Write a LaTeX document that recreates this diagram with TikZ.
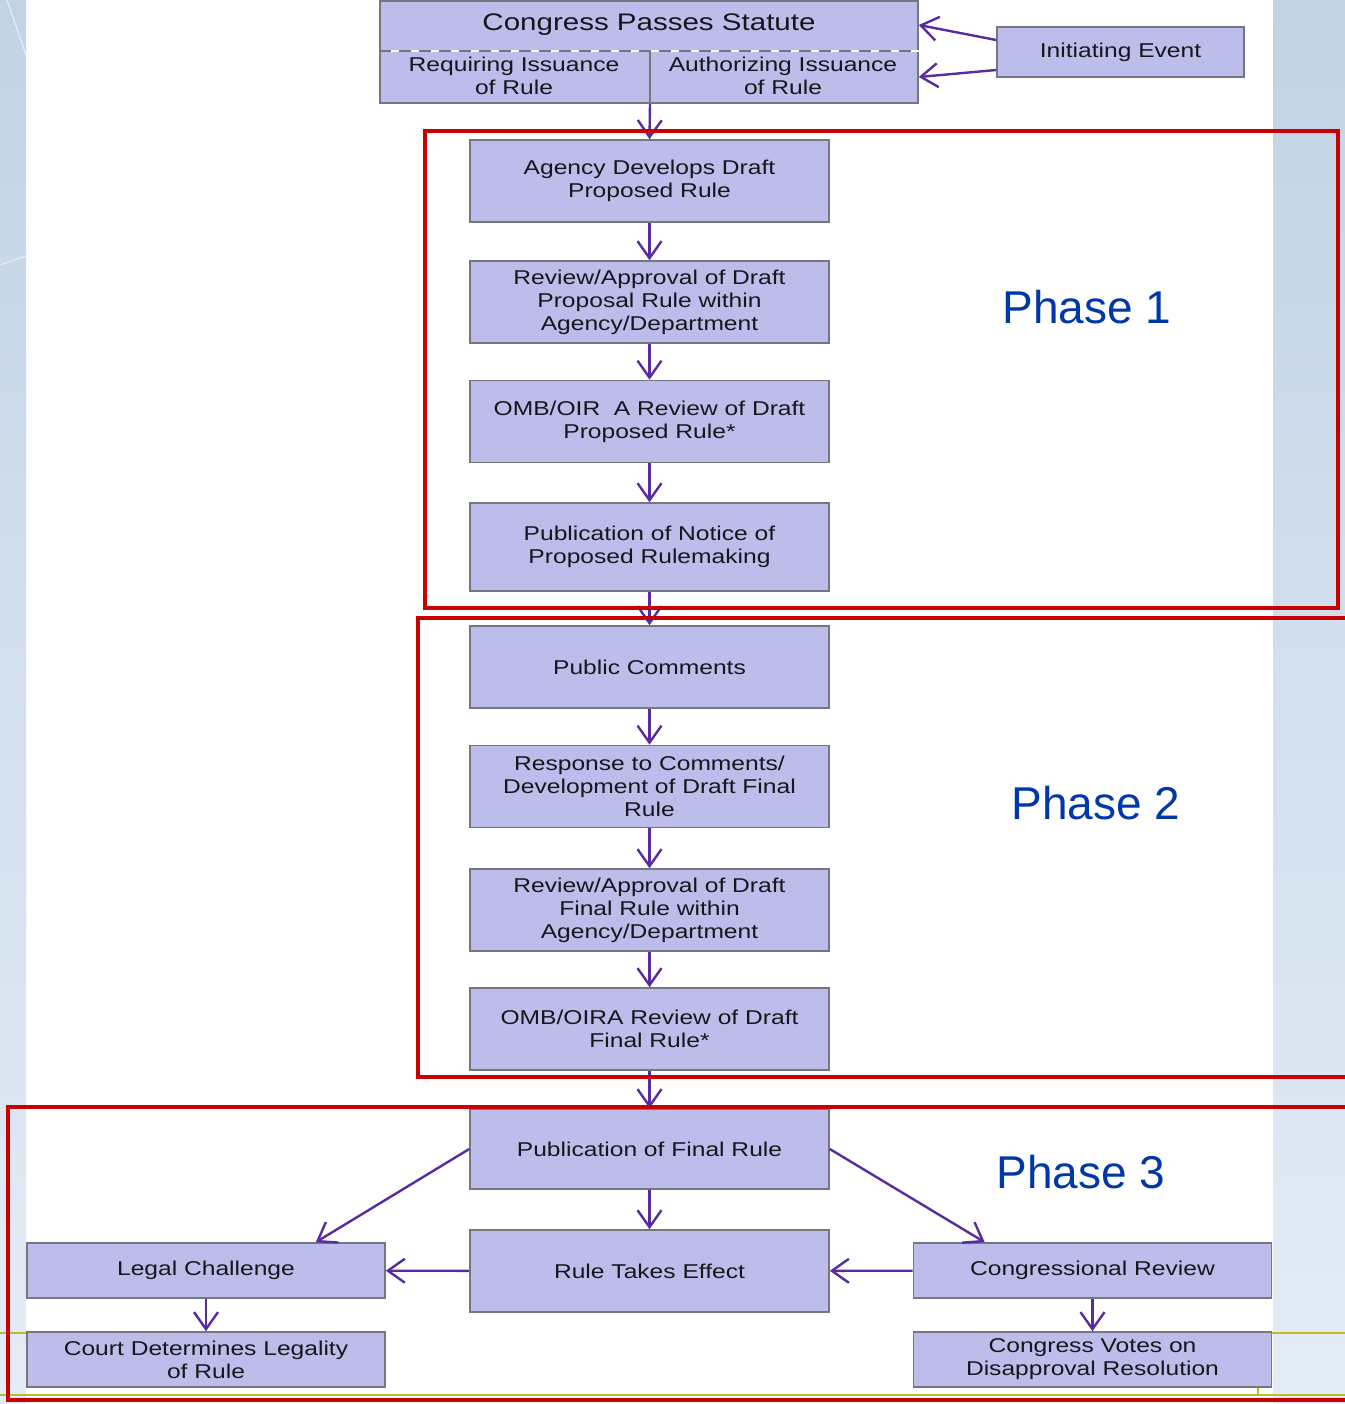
\documentclass[tikz,border=0pt]{standalone}
\usepackage{fontspec}
\setmainfont{Liberation Sans}[FakeStretch=1.23]
\newfontfamily\phasefont{Liberation Sans}
\usetikzlibrary{arrows.meta}
\definecolor{boxfill}{RGB}{189,189,236}
\definecolor{boxline}{RGB}{118,118,128}
\definecolor{boxtext}{RGB}{22,22,28}
\definecolor{flowpurple}{RGB}{88,44,160}
\definecolor{phasered}{RGB}{200,0,0}
\definecolor{phaseblue}{RGB}{0,56,168}
\definecolor{slideblue}{RGB}{194,211,230}
\definecolor{slidepale}{RGB}{228,236,246}
\definecolor{slideolive}{RGB}{188,188,40}
\tikzset{
  stepbox/.style={draw=boxline, line width=0.8pt, fill=boxfill, minimum width=179.5pt,
    minimum height=41pt, inner sep=0pt, align=center, text=boxtext,
    font=\fontsize{10}{11.5}\selectfont},
  sidebox/.style={stepbox, minimum width=179pt, minimum height=27.5pt},
  flow/.style={draw=flowpurple, line width=1.2pt, -{Straight Barb[length=8.5pt,width=12pt]}},
  phaseframe/.style={draw=phasered, line width=2pt},
  phaselabel/.style={text=phaseblue, font=\phasefont\fontsize{23}{27}\selectfont}
}
\begin{document}
\begin{tikzpicture}[x=0.5pt, y=-0.5pt]
\useasboundingbox (0,0) rectangle (1345,1404);
% slide background
\shade[top color=slideblue, bottom color=slidepale] (0,0) rectangle (26,1404);
\shade[top color=slideblue, bottom color=slidepale] (1273,0) rectangle (1345,1404);
\draw[slideblue!40!white, line width=0.6pt] (7,0)--(26,55);
\draw[slideblue!40!white, line width=0.6pt] (0,265)--(26,256);
\draw[slideolive, line width=1pt] (0,1333)--(27,1333);
\draw[slideolive, line width=1pt] (1272,1333)--(1345,1333);
\draw[slideolive, line width=1pt] (0,1395)--(1345,1395);
\draw[slideolive, line width=1pt] (1258,1387)--(1258,1395);

% statute box
\node[stepbox, minimum width=269pt, minimum height=51pt] (congress) at (649,52) {};
\node[text=boxtext, font=\fontsize{12}{14}\selectfont] (statute) at (649,25) {Congress Passes Statute};
\node[text=boxtext, align=center, font=\fontsize{10}{11.5}\selectfont] (requiring) at (514,76) {Requiring Issuance\\of Rule};
\node[text=boxtext, align=center, font=\fontsize{10}{11.5}\selectfont] (authorizing) at (783,76) {Authorizing Issuance\\of Rule};
\coordinate (split) at (650,51);
\draw[white, line width=1.2pt] (congress.west |- split)--(congress.east |- split);
\draw[boxline, line width=0.8pt, dash pattern=on 6pt off 4pt] (congress.west |- split)--(congress.east |- split);
\draw[boxline, line width=0.6pt] (split)--(split |- congress.south);
\node[stepbox, minimum width=123.5pt, minimum height=25pt] (initiating) at (1120.5,52) {Initiating Event};

% main column
\node[stepbox] (agency) at (649.5,181) {Agency Develops Draft\\Proposed Rule};
\node[stepbox] (review1) at (649.5,302) {Review/Approval of Draft\\Proposal Rule within\\Agency/Department};
\node[stepbox] (omb1) at (649.5,421.5) {OMB/OIR\ \ A Review of Draft\\Proposed Rule*};
\node[stepbox, minimum height=44pt] (notice) at (649.5,547) {Publication of Notice of\\Proposed Rulemaking};
\node[stepbox] (comments) at (649.5,667) {Public Comments};
\node[stepbox] (response) at (649.5,786.5) {Response to Comments/\\Development of Draft Final\\Rule};
\node[stepbox] (review2) at (649.5,910) {Review/Approval of Draft\\Final Rule within\\Agency/Department};
\node[stepbox] (omb2) at (649.5,1029) {OMB/OIRA Review of Draft\\Final Rule*};
\node[stepbox, minimum height=40pt] (final) at (649.5,1149) {Publication of Final Rule};
\node[stepbox] (effect) at (649.5,1271) {Rule Takes Effect};

% side boxes
\node[sidebox] (legal) at (206,1270.5) {Legal Challenge};
\node[sidebox] (court) at (206,1359.5) {Court Determines Legality\\of Rule};
\node[sidebox] (congrev) at (1092.5,1270.5) {Congressional Review};
\node[sidebox] (votes) at (1092.5,1359.5) {Congress Votes on\\Disapproval Resolution};

% arrows
\draw[flow] ([yshift=6pt]initiating.west)--([yshift=13.5pt]congress.east);
\draw[flow] ([yshift=-9pt]initiating.west)--([yshift=-12.5pt]congress.east);
\draw[flow] (split |- congress.south)--(agency.north);
\draw[flow] (agency)--(review1);
\draw[flow] (review1)--(omb1);
\draw[flow] (omb1)--(notice);
\draw[flow] (notice)--(comments);
\draw[flow] (comments)--(response);
\draw[flow] (response)--(review2);
\draw[flow] (review2)--(omb2);
\draw[flow] (omb2)--(final);
\draw[flow] (final)--(effect);
\draw[flow] (final.west)--([xshift=-35pt]legal.north east);
\draw[flow] (final.east)--([xshift=36pt]congrev.north west);
\draw[flow] (effect)--(legal);
\draw[flow] (congrev)--(effect);
\draw[flow] (legal)--(court);
\draw[flow] (congrev)--(votes);

% phases
\draw[phaseframe] (425,131) rectangle (1338,608);
\draw[phaseframe] (418,618) rectangle (1352,1077);
\draw[phaseframe] (8,1107) rectangle (1352,1400);
\node[phaselabel] (phase1) at (1087,307) {Phase 1};
\node[phaselabel] (phase2) at (1096,803) {Phase 2};
\node[phaselabel] (phase3) at (1081,1172) {Phase 3};
\end{tikzpicture}
\end{document}
